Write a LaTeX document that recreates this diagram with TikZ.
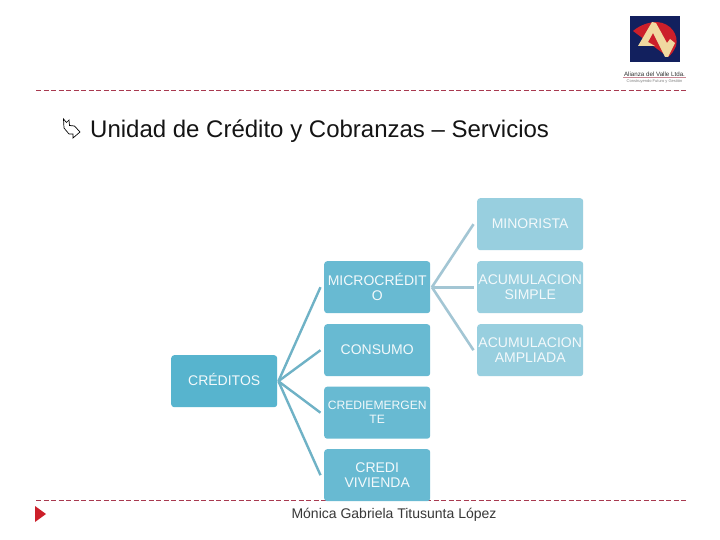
\documentclass[tikz,border=0pt]{standalone}
\usepackage{fontspec}
\setmainfont{Liberation Sans}
\definecolor{lvzero}{HTML}{57B4CE}
\definecolor{lvone}{HTML}{68BAD2}
\definecolor{lvtwo}{HTML}{98CFDF}
\definecolor{cone}{HTML}{6FB2C6}
\definecolor{ctwo}{HTML}{A3C6D4}
\definecolor{dashc}{HTML}{A83A50}
\definecolor{logob}{HTML}{12205E}
\definecolor{logor}{HTML}{CC1F2A}
\definecolor{logoc}{HTML}{F0D9A0}
\tikzset{
 x=1pt,y=-1pt,
 dia/.style={rounded corners=3pt,minimum width=106pt,text width=106pt,inner sep=0pt,align=center,text=white!92!lvone,font=\fontsize{14}{15}\selectfont,anchor=north west},
 rootbox/.style={dia,fill=lvzero,minimum height=52pt},
 midbox/.style={dia,fill=lvone,minimum height=52pt},
 leafbox/.style={dia,fill=lvtwo,minimum height=52pt},
 linkone/.style={draw=cone,line width=2.4pt},
 linktwo/.style={draw=ctwo,line width=2.6pt},
 rule/.style={draw=dashc,line width=0.7pt,dash pattern=on 5pt off 2.5pt},
}
\begin{document}
\begin{tikzpicture}
\useasboundingbox (0,0) rectangle (720,540);
\fill[white] (0,0) rectangle (720,540);
\coordinate (r1a) at (36,90); \coordinate (r1b) at (686,90);
\coordinate (r2a) at (36,500); \coordinate (r2b) at (686,500);
\draw[rule] (r1a) -- (r1b);
\draw[rule] (r2a) -- (r2b);
% logo
\fill[logob] (630,16) rectangle (680,62);
\fill[logor] (633,31) .. controls (640,25) and (649,22) .. (657,22) .. controls (671,23) and (679,35) .. (676,46) .. controls (674,51) and (671,55) .. (668,57) -- cycle;
\fill[logoc] (638,46) -- (652,22) -- (656,23) -- (667,43) -- (670,39) -- (675,43) -- (668,57) -- (665,57) -- (653,33) -- (648,42) -- (655,46) -- cycle;
\node[font=\fontsize{6.2}{7}\selectfont,text=black!80,inner sep=0pt] (lg1) at (654.5,74) {Alianza del Valle Ltda.};
\draw[dashc!60,line width=0.4pt] (623,77.5) -- (686,77.5);
\node[font=\fontsize{4}{5}\selectfont,text=black!50,inner sep=0pt] (lg2) at (654.5,81) {Construyendo Futuro y Gestión};
% bullet
\draw[black,line width=0.7pt,line join=miter] (63.5,119) -- (66.5,122.5) -- (69,120) -- (69.5,125.5) -- (74.5,126) -- (80,132) -- (73,138) -- (73,134) -- (69,134) -- (64,128) -- cycle;
\node[anchor=base west,inner sep=0pt,font=\fontsize{24}{26}\selectfont,text=black!92] (title) at (90,138) {Unidad de Crédito y Cobranzas – Servicios};
% nodes
\node[rootbox,text depth=4pt] (root) at (171,355) {CRÉDITOS};
\node[midbox] (micro) at (324,261) {MICROCRÉDIT\\O};
\node[midbox,text depth=2pt] (cons) at (324,324) {CONSUMO};
\node[midbox,font=\fontsize{12.1}{14}\selectfont] (emer) at (324,386.5) {CREDIEMERGEN\\TE};
\node[midbox] (viv) at (324,449) {CREDI\\VIVIENDA};
\node[leafbox,text depth=2pt] (mino) at (477,198) {MINORISTA};
\node[leafbox] (simp) at (477,261) {ACUMULACION\\SIMPLE};
\node[leafbox] (ampl) at (477,324) {ACUMULACION\\AMPLIADA};
% links
\foreach \t in {micro,cons,emer,viv}
  \draw[linkone] ([xshift=1pt]root.east) -- ([xshift=-3.5pt]\t.west);
\foreach \t in {mino,simp,ampl}
  \draw[linktwo] ([xshift=1.5pt]micro.east) -- ([xshift=-3.5pt]\t.west);
% footer
\fill[logor] (35,506) -- (46,514) -- (35,522) -- cycle;
\node[anchor=base,inner sep=0pt,font=\fontsize{14}{16}\selectfont,text=black!78] (foot) at (394,518) {Mónica Gabriela Titusunta López};
\end{tikzpicture}
\end{document}
